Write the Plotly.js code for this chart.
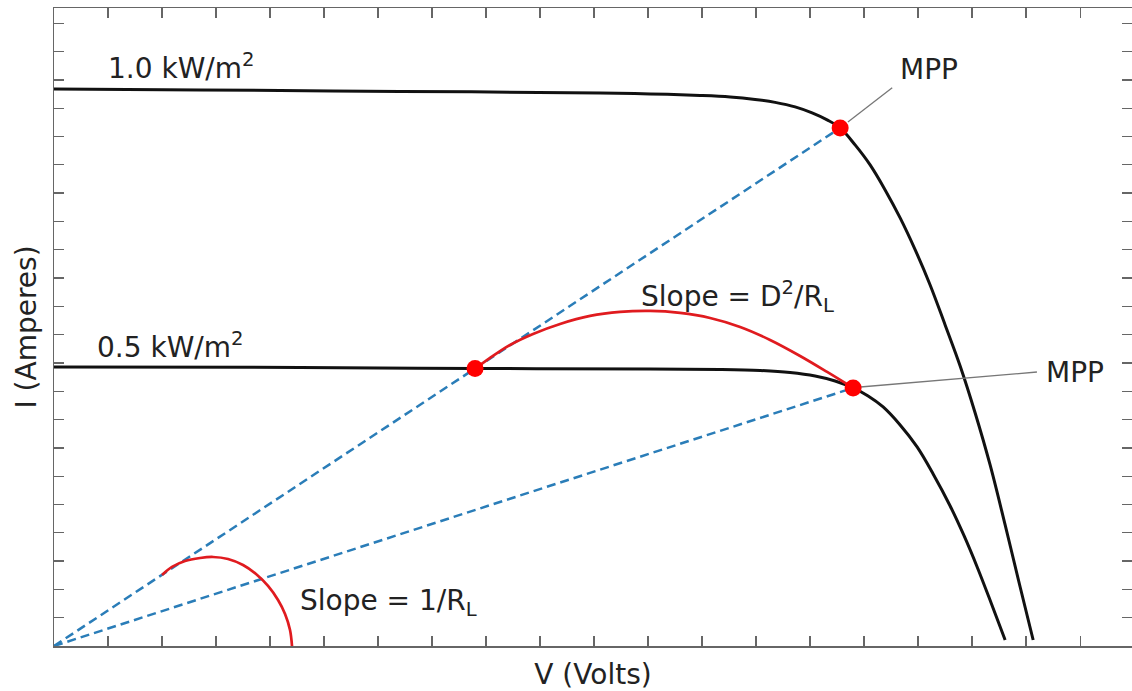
<!DOCTYPE html>
<html>
<head>
<meta charset="utf-8">
<script src="https://cdn.plot.ly/plotly-3.0.1.min.js"></script>
<style>html,body{margin:0;padding:0;background:#fff;}#chart{width:1132px;height:691px;}</style>
</head>
<body>
<div id="chart"></div>
<script>
// I-V curve at 1.0 kW/m^2 (axis units = tick spacing)
const highV = [0, 2.704, 6.407, 10.111, 11.037, 11.963, 12.519, 12.981, 13.352, 13.722, 14.037, 14.315, 14.556, 14.833, 15.111, 15.389, 15.667, 15.944, 16.222, 16.500, 16.778, 17.056, 17.333, 17.611, 17.889, 18.130];
const highI = [19.682, 19.647, 19.594, 19.541, 19.505, 19.452, 19.399, 19.311, 19.205, 19.046, 18.834, 18.587, 18.304, 17.703, 16.996, 16.113, 15.124, 14.004, 12.756, 11.343, 9.894, 8.233, 6.396, 4.276, 2.085, 0.212];
// I-V curve at 0.5 kW/m^2
const lowV = [0, 4.556, 7.796, 11.037, 12.333, 13.074, 13.630, 14.093, 14.463, 14.796, 15.074, 15.352, 15.667, 15.981, 16.278, 16.593, 16.852, 17.093, 17.352, 17.611];
const lowI = [9.859, 9.841, 9.806, 9.788, 9.770, 9.735, 9.664, 9.541, 9.364, 9.117, 8.834, 8.445, 7.809, 7.032, 6.078, 4.947, 3.887, 2.792, 1.519, 0.212];
// Load lines through the origin
const loadHighV = [0, 14.556];
const loadHighI = [0, 18.304];
const loadLowV = [0, 14.796];
const loadLowI = [0, 9.117];
// Marked points: MPP at 1.0, operating point at 0.5, MPP at 0.5
const dotV = [14.556, 7.796, 14.796];
const dotI = [18.304, 9.806, 9.117];
// Red arrows (arcs)
const arcTopV = [7.796, 8.074, 8.444, 8.870, 9.370, 9.926, 10.481, 11.037, 11.593, 12.148, 12.704, 13.259, 13.815, 14.315, 14.796];
const arcTopI = [9.788, 10.177, 10.636, 11.025, 11.378, 11.661, 11.802, 11.837, 11.767, 11.590, 11.272, 10.813, 10.247, 9.682, 9.117];
const arcBotV = [2.000, 2.185, 2.426, 2.704, 2.944, 3.222, 3.500, 3.741, 3.963, 4.148, 4.278, 4.370, 4.407];
const arcBotI = [2.509, 2.792, 3.004, 3.110, 3.145, 3.074, 2.862, 2.544, 2.120, 1.625, 1.131, 0.565, 0.0];
// Leader lines for MPP labels
const leadHighV = [14.70, 15.52];
const leadHighI = [18.51, 19.72];
const leadLowV = [14.93, 18.20];
const leadLowI = [9.15, 9.68];

const FONT = 'DejaVu Sans, sans-serif';
const TXT = '#222';

const traces = [
  {x: loadHighV, y: loadHighI, mode: 'lines', line: {color: '#2a7db8', width: 2.5, dash: '9px,5px'}, hoverinfo: 'skip'},
  {x: loadLowV, y: loadLowI, mode: 'lines', line: {color: '#2a7db8', width: 2.5, dash: '9px,5px'}, hoverinfo: 'skip'},
  {x: highV, y: highI, mode: 'lines', line: {color: '#111', width: 3, shape: 'spline', smoothing: 1}},
  {x: lowV, y: lowI, mode: 'lines', line: {color: '#111', width: 3, shape: 'spline', smoothing: 1}},
  {x: arcTopV, y: arcTopI, mode: 'lines', line: {color: '#e01b1f', width: 2.7, shape: 'spline', smoothing: 1}},
  {x: arcBotV, y: arcBotI, mode: 'lines', line: {color: '#e01b1f', width: 2.7, shape: 'spline', smoothing: 1}},
  {x: leadHighV, y: leadHighI, mode: 'lines', line: {color: '#777', width: 1.3}},
  {x: leadLowV, y: leadLowI, mode: 'lines', line: {color: '#777', width: 1.3}},
  {x: dotV, y: dotI, mode: 'markers', marker: {color: '#ff0000', size: 17}}
];

const ann = (x, y, text, xanchor) => ({x, y, xref: 'x', yref: 'y', text, showarrow: false,
  xanchor: xanchor || 'left', yanchor: 'middle', font: {family: FONT, size: 28, color: TXT}});

const layout = {
  width: 1132, height: 691,
  margin: {l: 54, r: 0, t: 8, b: 45},
  paper_bgcolor: '#fff', plot_bgcolor: '#fff',
  showlegend: false,
  font: {family: FONT, color: TXT},
  xaxis: {
    range: [0, 19.96], dtick: 1, tick0: 0, ticks: 'inside', ticklen: 10, tickwidth: 1.3, tickcolor: '#666',
    showticklabels: false, showgrid: false, zeroline: false,
    showline: true, linecolor: '#666', linewidth: 1.5, mirror: 'ticks',
    title: {text: 'V (Volts)', font: {family: FONT, size: 28, color: TXT}, standoff: 20}
  },
  yaxis: {
    range: [0, 22.54], dtick: 1, tick0: 0, ticks: 'inside', ticklen: 10, tickwidth: 1.3, tickcolor: '#666',
    showticklabels: false, showgrid: false, zeroline: false,
    showline: true, linecolor: '#666', linewidth: 1.5, mirror: 'ticks',
    title: {text: 'I (Amperes)', font: {family: FONT, size: 28, color: TXT}, standoff: 7}
  },
  annotations: [
    ann(0.96, 20.46, '1.0 kW/m<sup>2</sup>'),
    ann(0.76, 10.63, '0.5 kW/m<sup>2</sup>'),
    ann(16.2, 20.35, 'MPP', 'center'),
    ann(18.91, 9.68, 'MPP', 'center'),
    ann(10.83, 12.35, 'Slope = D<sup>2</sup>/R<sub>L</sub>'),
    ann(4.52, 1.55, 'Slope = 1/R<sub>L</sub>')
  ]
};

Plotly.newPlot('chart', traces, layout, {staticPlot: true, displayModeBar: false});
</script>
</body>
</html>
